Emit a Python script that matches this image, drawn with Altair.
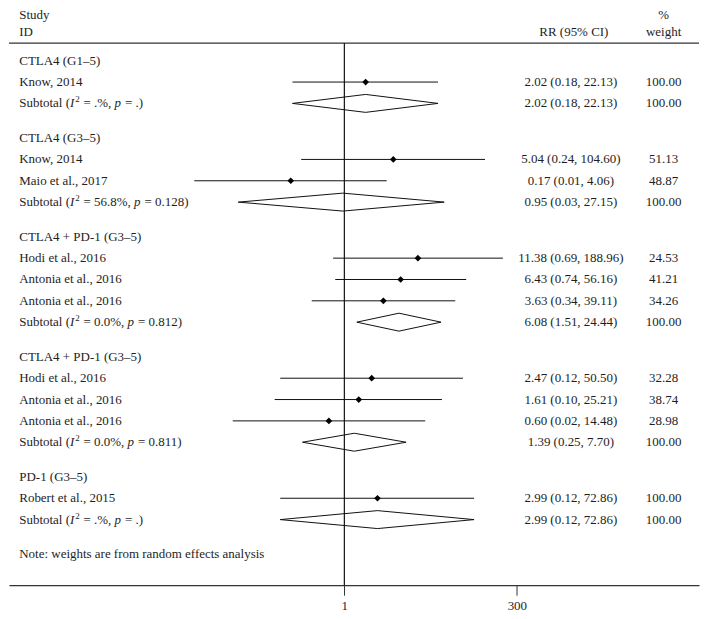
import altair as alt
import pandas as pd

# ---------------- data ----------------
group_names = ["CTLA4 (G1–5)", "CTLA4 (G3–5)", "CTLA4 + PD-1 (G3–5)",
               "CTLA4 + PD-1 (G3–5)", "PD-1 (G3–5)"]

study_names = [
    ["Know, 2014"],
    ["Know, 2014", "Maio et al., 2017"],
    ["Hodi et al., 2016", "Antonia et al., 2016", "Antonia et al., 2016"],
    ["Hodi et al., 2016", "Antonia et al., 2016", "Antonia et al., 2016"],
    ["Robert et al., 2015"],
]
study_rr = [[2.02], [5.04, 0.17], [11.38, 6.43, 3.63], [2.47, 1.61, 0.60], [2.99]]
study_lo = [[0.18], [0.24, 0.007], [0.69, 0.74, 0.34], [0.12, 0.10, 0.025], [0.12]]
study_hi = [[22.13], [104.60, 4.06], [188.96, 56.16, 39.11], [50.50, 25.21, 14.48], [72.86]]
study_ci_text = [
    ["2.02 (0.18, 22.13)"],
    ["5.04 (0.24, 104.60)", "0.17 (0.01, 4.06)"],
    ["11.38 (0.69, 188.96)", "6.43 (0.74, 56.16)", "3.63 (0.34, 39.11)"],
    ["2.47 (0.12, 50.50)", "1.61 (0.10, 25.21)", "0.60 (0.02, 14.48)"],
    ["2.99 (0.12, 72.86)"],
]
study_weight = [["100.00"], ["51.13", "48.87"], ["24.53", "41.21", "34.26"],
                ["32.28", "38.74", "28.98"], ["100.00"]]

sub_i2 = [".%", "56.8%", "0.0%", "0.0%", ".%"]
sub_p = [".", "0.128", "0.812", "0.811", "."]
sub_rr = [2.02, 0.95, 6.08, 1.39, 2.99]
sub_lo = [0.18, 0.03, 1.51, 0.25, 0.12]
sub_hi = [22.13, 27.15, 24.44, 7.70, 72.86]
sub_ci_text = ["2.02 (0.18, 22.13)", "0.95 (0.03, 27.15)", "6.08 (1.51, 24.44)",
               "1.39 (0.25, 7.70)", "2.99 (0.12, 72.86)"]
sub_weight = ["100.00"] * 5

note_text = "Note: weights are from random effects analysis"
tick_values = [1, 300]

# ---------------- layout ----------------
W, H = 692, 578
FIRST, ROW, GAP = 52.0, 21.4, 34.8
HEAD1, HEAD2, RULE_Y = 6.0, 23.7, 34.3
DIAM_H = 9.0
XMIN, XMAX = 1.53e-5, 1.237e5
FONT = "Liberation Serif"
FS = 13
SUP_FS = 9
INK = "#1e1e1e"
LEFT_X = 10.3

# Times/Liberation Serif advance widths (per 1000 em) for measuring label pieces
ADV = {"S": 556, "u": 500, "b": 500, "t": 278, "o": 500, "a": 444, "l": 278,
       " ": 250, "(": 333, ")": 333, "=": 564, ".": 250, "%": 833, ",": 250,
       "I": 333, "p": 500}
for d in "0123456789":
    ADV[d] = 500


def width(s, size):
    return sum(ADV.get(c, 500) for c in s) * size / 1000.0


left_rows, ci_rows, w_rows, lines, diamonds, pieces = [], [], [], [], [], []
y = FIRST
for g, gname in enumerate(group_names):
    left_rows.append({"label": gname, "y": y})
    y += ROW
    for s, sname in enumerate(study_names[g]):
        left_rows.append({"label": sname, "y": y})
        ci_rows.append({"t": study_ci_text[g][s], "y": y})
        w_rows.append({"t": study_weight[g][s], "y": y})
        lines.append({"rr": study_rr[g][s], "lo": study_lo[g][s],
                      "hi": study_hi[g][s], "y": y})
        y += ROW
    # subtotal label in pieces: regular / italic / superscript
    parts = [("Subtotal (", "reg"), ("I", "ita"), ("2", "sup"),
             (" = " + sub_i2[g] + ", ", "reg"), ("p", "ita"),
             (" = " + sub_p[g] + ")", "reg")]
    off = 0.0
    for t, st in parts:
        size = SUP_FS if st == "sup" else FS
        lead = len(t) - len(t.lstrip(" "))
        shown = t.strip(" ")
        pieces.append({"t": shown, "y": y, "off": off + width(" " * lead, size), "st": st})
        off += width(t, size)
        if st == "sup":
            off += 0.6
        elif st == "ita":
            off += 0.8
    ci_rows.append({"t": sub_ci_text[g], "y": y})
    w_rows.append({"t": sub_weight[g], "y": y})
    pts = [(sub_lo[g], y), (sub_rr[g], y - DIAM_H), (sub_hi[g], y),
           (sub_rr[g], y + DIAM_H), (sub_lo[g], y)]
    for k, (px, py) in enumerate(pts):
        diamonds.append({"g": g, "o": k, "x": px, "y": py})
    y += GAP
left_rows.append({"label": note_text, "y": y})

left_df = pd.DataFrame(left_rows)
ci_df = pd.DataFrame(ci_rows)
w_df = pd.DataFrame(w_rows)
line_df = pd.DataFrame(lines)
dia_df = pd.DataFrame(diamonds)
piece_df = pd.DataFrame(pieces)

xscale = alt.Scale(type="log", domain=[XMIN, XMAX], nice=False)
yscale = alt.Scale(domain=[0, H], reverse=True, nice=False, zero=False)
xaxis = alt.Axis(values=tick_values, format="d", title=None, grid=False,
                 tickSize=10, labelPadding=4)
offscale = alt.Scale(domain=[0, 300], range=[0, 300], nice=False, zero=False)

left_layer = alt.Chart(left_df).mark_text(
    align="left", baseline="middle", font=FONT, fontSize=FS, color=INK
).encode(x=alt.value(LEFT_X), y=alt.Y("y:Q", scale=yscale, axis=None), text="label:N")


def piece_layer(style, **kw):
    return alt.Chart(piece_df).transform_filter(
        alt.datum.st == style
    ).mark_text(align="left", baseline="middle", font=FONT, color=INK, **kw).encode(
        x=alt.value(LEFT_X),
        xOffset=alt.XOffset("off:Q", scale=offscale),
        y=alt.Y("y:Q", scale=yscale, axis=None),
        text="t:N",
    )


reg_layer = piece_layer("reg", fontSize=FS)
ita_layer = piece_layer("ita", fontSize=FS, fontStyle="italic")
sup_layer = piece_layer("sup", fontSize=SUP_FS, dy=-4)

ci_layer = alt.Chart(ci_df).mark_text(
    align="center", baseline="middle", font=FONT, fontSize=FS, color=INK
).encode(x=alt.value(563.5), y=alt.Y("y:Q", scale=yscale, axis=None), text="t:N")

w_layer = alt.Chart(w_df).mark_text(
    align="center", baseline="middle", font=FONT, fontSize=FS, color=INK
).encode(x=alt.value(656.5), y=alt.Y("y:Q", scale=yscale, axis=None), text="t:N")


def header(text, xpix, ypos, align):
    return alt.Chart(pd.DataFrame({"t": [text]})).mark_text(
        align=align, baseline="middle", font=FONT, fontSize=FS, color=INK
    ).encode(x=alt.value(xpix), y=alt.YDatum(ypos, type="quantitative", scale=yscale, axis=None),
             text="t:N")


headers = [
    header("Study", LEFT_X, HEAD1, "left"),
    header("ID", LEFT_X, HEAD2, "left"),
    header("RR (95% CI)", 566.5, HEAD2, "center"),
    header("%", 656.5, HEAD1, "center"),
    header("weight", 656.5, HEAD2, "center"),
]

ci_lines = alt.Chart(line_df).mark_rule(color="#111", strokeWidth=1).encode(
    x=alt.X("lo:Q", scale=xscale, axis=xaxis),
    x2="hi:Q",
    y=alt.Y("y:Q", scale=yscale, axis=None),
)

points = alt.Chart(line_df).mark_point(
    shape="diamond", filled=True, size=45, color="#000", opacity=1
).encode(
    x=alt.X("rr:Q", scale=xscale, axis=xaxis),
    y=alt.Y("y:Q", scale=yscale, axis=None),
)

dia_layer = alt.Chart(dia_df).mark_line(color="#111", strokeWidth=1).encode(
    x=alt.X("x:Q", scale=xscale, axis=xaxis),
    y=alt.Y("y:Q", scale=yscale, axis=None),
    detail="g:N",
    order="o:Q",
)

null_line = alt.Chart(pd.DataFrame({"a": [0]})).mark_rule(color="#111", strokeWidth=1.2).encode(
    x=alt.XDatum(1, type="quantitative", scale=xscale, axis=xaxis),
    y=alt.YDatum(RULE_Y, type="quantitative", scale=yscale, axis=None),
    y2=alt.Y2Datum(H),
)

top_rule = alt.Chart(pd.DataFrame({"a": [0]})).mark_rule(color="#333", strokeWidth=1.3).encode(
    x=alt.XDatum(XMIN, type="quantitative", scale=xscale, axis=xaxis),
    x2=alt.X2Datum(XMAX),
    y=alt.YDatum(RULE_Y, type="quantitative", scale=yscale, axis=None),
)

chart = alt.layer(
    top_rule, null_line, ci_lines, dia_layer, points,
    left_layer, reg_layer, ita_layer, sup_layer, ci_layer, w_layer, *headers
).properties(width=W, height=H, padding=0).configure_view(stroke=None).configure_axis(
    domainColor="#333", domainWidth=1.3, tickColor="#333", tickWidth=1,
    labelFont=FONT, labelFontSize=FS, labelColor=INK,
)

chart.save("out.html", embed_options={"renderer": "svg", "actions": False})
